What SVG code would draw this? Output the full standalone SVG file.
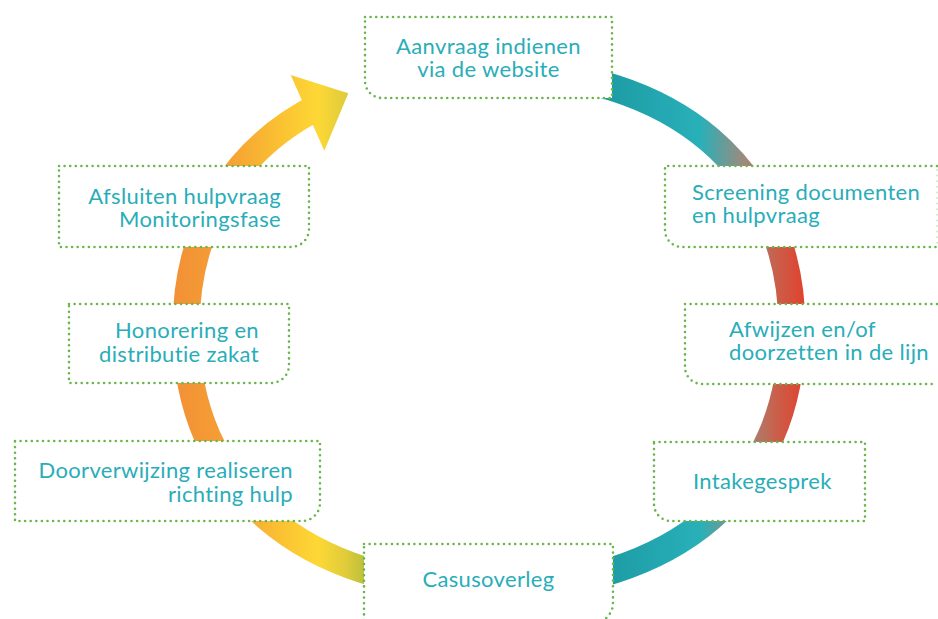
<svg xmlns="http://www.w3.org/2000/svg" width="938" height="619" viewBox="0 0 938 619">
  <defs>
    <linearGradient id="gRight" gradientUnits="userSpaceOnUse" x1="600" y1="0" x2="810" y2="0">
      <stop offset="0" stop-color="#1d9aa3"/>
      <stop offset="0.476" stop-color="#28b0b9"/>
      <stop offset="0.69" stop-color="#a0897c"/>
      <stop offset="0.833" stop-color="#c8614c"/>
      <stop offset="1" stop-color="#e63b28"/>
    </linearGradient>
    <linearGradient id="gLeft" gradientUnits="userSpaceOnUse" x1="170" y1="0" x2="370" y2="0">
      <stop offset="0" stop-color="#f28f37"/>
      <stop offset="0.3" stop-color="#f5a134"/>
      <stop offset="0.575" stop-color="#fbc432"/>
      <stop offset="0.74" stop-color="#fdd835"/>
      <stop offset="0.875" stop-color="#e0cc3a"/>
      <stop offset="1" stop-color="#b3bd3b"/>
    </linearGradient>
  </defs>
  <style>
    .box { fill: #ffffff; stroke: #68b64c; stroke-width: 2.6; stroke-dasharray: 0 5.6; stroke-linecap: round; }
    .faint { fill: none; stroke: #68b64c; stroke-opacity: 0.3; stroke-width: 2; stroke-dasharray: 0 5.6; stroke-linecap: round; }
    .lbl { font-family: Lato, "Open Sans", "Liberation Sans", sans-serif; font-size: 22px; letter-spacing: 0.35px; fill: #29adb8; }
    .ring { fill: none; stroke-width: 27; }
  </style>

  <g id="connectors">
    <path class="ring" stroke="url(#gRight)" d="M 489 70 C 674.6 70, 792 170.4, 792 329 C 792 487.6, 674.6 588, 489 588"/>
    <path class="ring" stroke="url(#gLeft)" d="M 489 588 C 303.4 588, 186 487.6, 186 329 C 186 225.91, 235.6 147.5, 321.3 105.12"/>
    <polygon fill="url(#gLeft)" points="290.7,75 348.3,93.3 324.3,150.7"/>
  </g>

  <g id="n1">
    <path class="box" d="M 365 17 H 612 V 98 H 382 A 17 17 0 0 1 365 81 Z"/>
    <text class="lbl" text-anchor="middle"><tspan x="488.5" y="54">Aanvraag indienen</tspan><tspan x="488.5" y="77">via de website</tspan></text>
  </g>
  <g id="n2">
    <path class="box" d="M 938 166 H 665 V 230 A 17 17 0 0 0 682 247 H 938 Z" style="stroke:none"/>
    <path class="box" style="fill:none" d="M 937 166 H 665 V 230 A 17 17 0 0 0 682 247 H 937"/>
    <line class="faint" x1="937" y1="170" x2="937" y2="245"/>
    <text class="lbl"><tspan x="692" y="200">Screening documenten</tspan><tspan x="692" y="223">en hulpvraag</tspan></text>
  </g>
  <g id="n3">
    <path class="box" d="M 938 304 H 685 V 367 A 17 17 0 0 0 702 384 H 938 Z" style="stroke:none"/>
    <path class="box" style="fill:none" d="M 937 304 H 685 V 367 A 17 17 0 0 0 702 384 H 937"/>
    <text class="lbl"><tspan x="729" y="337">Afwijzen en/of</tspan><tspan x="729" y="360">doorzetten in de lijn</tspan></text>
  </g>
  <g id="n4">
    <path class="box" d="M 654 442 H 865 V 521 H 671 A 17 17 0 0 1 654 504 Z"/>
    <text class="lbl" x="693" y="489">Intakegesprek</text>
  </g>
  <g id="n5">
    <path class="box" d="M 364 544 H 613 V 603 A 20 20 0 0 1 593 623 H 364 Z"/>
    <text class="lbl" x="488.5" y="587" text-anchor="middle">Casusoverleg</text>
  </g>
  <g id="n6">
    <path class="box" d="M 15 441 H 320 V 503 A 18 18 0 0 1 302 521 H 15 Z"/>
    <text class="lbl" text-anchor="end"><tspan x="293" y="478">Doorverwijzing realiseren</tspan><tspan x="293" y="502">richting hulp</tspan></text>
  </g>
  <g id="n7">
    <path class="box" d="M 69 304 H 289 V 365 A 18 18 0 0 1 271 383 H 69 Z"/>
    <text class="lbl" text-anchor="end"><tspan x="259" y="338">Honorering en</tspan><tspan x="259" y="362">distributie zakat</tspan></text>
  </g>
  <g id="n8">
    <path class="box" d="M 59 166 H 309 V 229 A 18 18 0 0 1 291 247 H 59 Z"/>
    <text class="lbl" text-anchor="end"><tspan x="281" y="204">Afsluiten hulpvraag</tspan><tspan x="281" y="227">Monitoringsfase</tspan></text>
  </g>
</svg>
